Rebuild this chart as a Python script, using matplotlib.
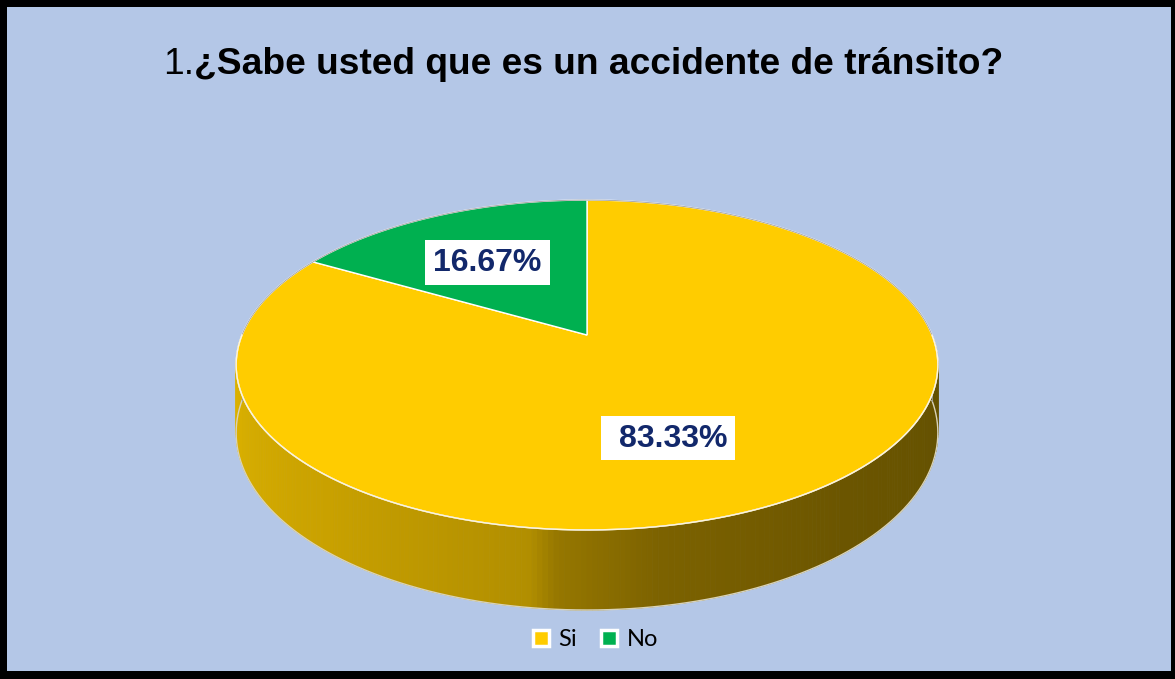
import numpy as np
import matplotlib
matplotlib.use("Agg")
import matplotlib.pyplot as plt
from matplotlib.patches import Polygon, Rectangle
from matplotlib.lines import Line2D
from matplotlib.colors import to_rgb

# ---- data ----
categories = ["Si", "No"]
values = [83.33, 16.67]
colors = ["#FFCC00", "#00B050"]
title_num = "1."
title_text = "¿Sabe usted que es un accidente de tránsito?"

W, H_FIG = 1175, 679
fig = plt.figure(figsize=(W / 100, H_FIG / 100), dpi=100, facecolor="black")
ax = fig.add_axes([0, 0, 1, 1])
ax.set_xlim(0, W)
ax.set_ylim(H_FIG, 0)
ax.axis("off")
ax.add_patch(Rectangle((7, 7), 1164, 664, facecolor="#B4C7E7", edgecolor="none", zorder=0))

# ---- 3D pie projection (perspective) ----
cx, cy = 587.0, 335.0
R, B, K, DEPTH = 345.0, 159.5, 0.1818, 65.5


def proj(r, th, z=0.0):
    d = r * np.sin(th)
    s = 1.0 / (1.0 + K * d)
    x = cx + R * r * np.cos(th) * s
    y = cy - B * r * np.sin(th) * s + z * DEPTH * s
    return x, y


total = sum(values)
fracs = [v / total for v in values]
# Excel: start at 12 o'clock, clockwise
starts, ends = [], []
a = np.pi / 2
for f in fracs:
    starts.append(a)
    a2 = a - f * 2 * np.pi
    ends.append(a2)
    a = a2

# side wall (front half) with gradient shading
side_stops = [(np.pi, "#E2B700"), (np.radians(230), "#C9A100"), (np.radians(262), "#B28F00"),
              (np.radians(266), "#967700"), (np.radians(280), "#7C6200"),
              (np.radians(310), "#6B5500"), (2 * np.pi, "#625000")]
st_a = np.array([s[0] for s in side_stops])
st_c = np.array([to_rgb(s[1]) for s in side_stops])

n = 240
ths = np.linspace(np.pi, 2 * np.pi, n + 1)
for i in range(n):
    t0, t1 = ths[i], ths[i + 1]
    tm = 0.5 * (t0 + t1)
    col = [np.interp(tm, st_a, st_c[:, j]) for j in range(3)]
    p = [proj(1, t0, 0), proj(1, t1, 0), proj(1, t1, 1), proj(1, t0, 1)]
    ax.add_patch(Polygon(p, closed=True, facecolor=col, edgecolor=col, lw=0.6, zorder=2))

# side outline
bx, by = proj(1, ths, 1)
ax.plot(bx, by, color="#D8D2B8", lw=1.0, zorder=3)
lx0, ly0 = proj(1, np.pi, 0)
lx1, ly1 = proj(1, np.pi, 1)
ax.plot([lx0, lx1], [ly0, ly1], color="#9A9A9A", lw=0.6, zorder=3)
rx0, ry0 = proj(1, 2 * np.pi, 0)
rx1, ry1 = proj(1, 2 * np.pi, 1)
ax.plot([rx0, rx1], [ry0, ry1], color="#9A9A9A", lw=0.6, zorder=3)

# top faces
for s_, e_, c in zip(starts, ends, colors):
    t = np.linspace(s_, e_, 300)
    xs, ys = proj(1, t, 0)
    pts = [(cx, cy)] + list(zip(xs, ys))
    ax.add_patch(Polygon(pts, closed=True, facecolor=c, edgecolor="white", lw=1.0, zorder=4))

# rim outline
t = np.linspace(0, 2 * np.pi, 600)
xs, ys = proj(1, t, 0)
ax.plot(xs, ys, color="#9E9E9E", lw=0.6, zorder=5)
t = np.linspace(np.pi, 2 * np.pi, 300)
xs, ys = proj(1, t, 0)
ax.plot(xs, ys, color="#FFF6D8", lw=1.0, zorder=5)

# data labels
label_r = [0.6, 0.6]
label_off = [(-33, 11), (-5, 3)]
box_size = [(134, 44), (125, 45)]
text_off = [(5, 0), (0, 0)]
for i, (s_, e_) in enumerate(zip(starts, ends)):
    mid = 0.5 * (s_ + e_)
    lx, ly = proj(label_r[i], mid, 0)
    lx += label_off[i][0]
    ly += label_off[i][1]
    bw, bh = box_size[i]
    ax.add_patch(Rectangle((lx - bw / 2, ly - bh / 2), bw, bh, facecolor="white",
                           edgecolor="none", zorder=6))
    ax.text(lx + text_off[i][0], ly + 1, f"{values[i]:.2f}%", ha="center", va="center",
            fontsize=23, fontweight="bold", family="Liberation Sans",
            color="#12286B", zorder=7)

# title
t1 = ax.text(163, 74, title_num, ha="left", va="baseline", fontsize=26.7,
             family="Liberation Sans", color="black", zorder=8)
ax.annotate(title_text, xy=(1, 0), xycoords=t1, ha="left", va="bottom", fontsize=26.7,
            fontweight="bold", family="Liberation Sans", color="black", zorder=8)

# legend
handles = [Line2D([], [], ls="none", marker="s", markersize=12, markerfacecolor=c,
                  markeredgecolor="white", markeredgewidth=2.5) for c in colors]
leg = ax.legend(handles, categories, loc="center", bbox_to_anchor=(594 / W, 1 - 640 / H_FIG),
                bbox_transform=fig.transFigure, ncol=2, frameon=False,
                prop={"family": "Lato", "size": 17}, handlelength=0.9,
                handletextpad=0.3, columnspacing=0.9, borderaxespad=0)

fig.savefig("out.png", dpi=100, facecolor=fig.get_facecolor())
